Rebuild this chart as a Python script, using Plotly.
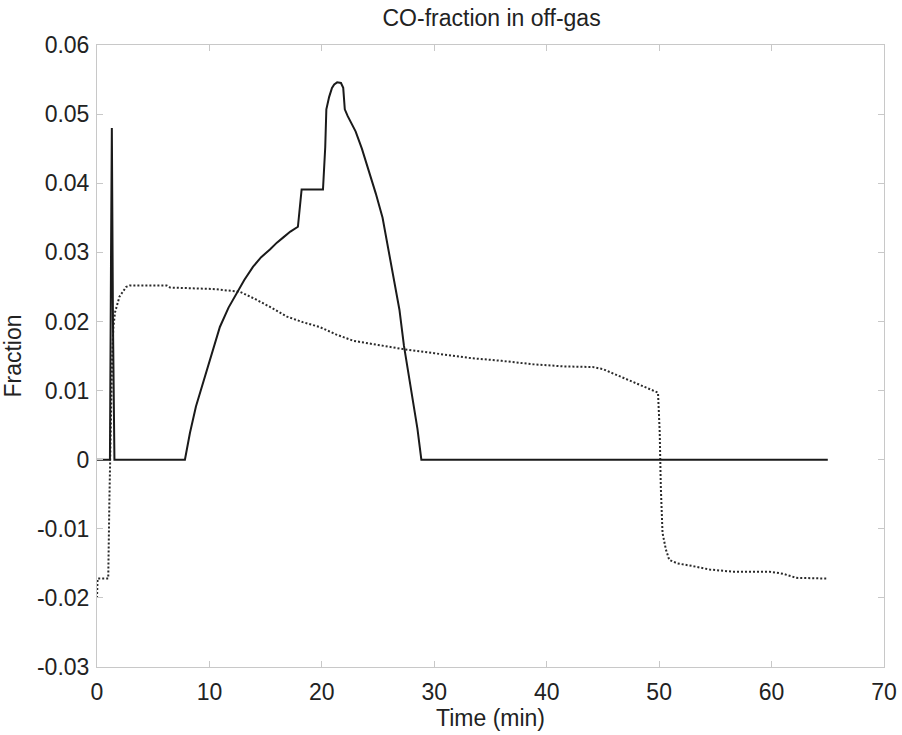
import plotly.graph_objects as go

# ---- data ----
co_time = [0, 1.15, 1.25, 1.32, 1.42, 1.55, 7.82, 8.27, 8.8, 9.42, 10.2, 10.93, 11.7,
           12.44, 13.1, 13.87, 14.6, 15.38, 16.0, 16.6, 17.2, 17.87, 17.96, 18.2, 20.1,
           20.3, 20.4, 20.65, 20.9, 21.1, 21.36, 21.7, 21.9, 22.04, 22.3, 22.6, 23.0,
           23.56, 24.2, 24.8, 25.4, 25.9, 26.4, 26.9, 27.3, 27.7, 28.1, 28.5, 28.85, 65.0]
co_frac = [0, 0, 0.03, 0.048, 0.02, 0, 0, 0.0039, 0.0077, 0.0111, 0.0155, 0.0192, 0.0220,
           0.0242, 0.0260, 0.0279, 0.0293, 0.0304, 0.0314, 0.0322, 0.0330, 0.0337, 0.0350,
           0.0391, 0.0391, 0.0452, 0.0507, 0.0525, 0.0538, 0.0543, 0.0546, 0.0545, 0.0538,
           0.0507, 0.0497, 0.0488, 0.0475, 0.0450, 0.0418, 0.0385, 0.0350, 0.0305, 0.0258,
           0.0217, 0.0165, 0.0125, 0.0087, 0.0045, 0, 0]

ref_time = [0, 0.05, 0.9, 1.0, 1.1, 1.2, 1.35, 1.45, 1.6, 2.0, 2.6, 2.9, 6.2, 6.5, 10.3,
            12.7, 14.0, 15.5, 16.9, 18.3, 19.8, 21.3, 22.8, 25.0, 27.6, 30.0, 33.2, 36.0,
            38.8, 41.5, 44.1, 45.0, 46.0, 47.6, 48.8, 49.9, 50.05, 50.15, 50.3, 50.6,
            50.9, 51.6, 53.0, 54.5, 56.5, 59.8, 61.0, 62.2, 64.9]
ref_frac = [-0.0200, -0.0172, -0.0172, -0.0172, -0.006, 0.005, 0.0150, 0.0190, 0.0213,
            0.0236, 0.0250, 0.0252, 0.0252, 0.0249, 0.0247, 0.0243, 0.0233, 0.0220, 0.0207,
            0.0199, 0.0192, 0.0181, 0.0172, 0.0166, 0.0159, 0.0154, 0.0147, 0.0143,
            0.0138, 0.0135, 0.0134, 0.0131, 0.0124, 0.0112, 0.0104, 0.0097, 0.004, -0.004,
            -0.0106, -0.0130, -0.0145, -0.0150, -0.0154, -0.0159, -0.0162, -0.0162,
            -0.0165, -0.0171, -0.0172]

x_ticks = [0, 10, 20, 30, 40, 50, 60, 70]
y_ticks = [-0.03, -0.02, -0.01, 0, 0.01, 0.02, 0.03, 0.04, 0.05, 0.06]
y_labels = ["-0.03", "-0.02", "-0.01", "0", "0.01", "0.02", "0.03", "0.04", "0.05", "0.06"]

FONT = "Liberation Sans, Arial, sans-serif"
FS = 23

fig = go.Figure()
fig.add_trace(go.Scatter(x=ref_time, y=ref_frac, mode="lines",
                         line=dict(color="#2a2a2a", width=2, dash="2px,2px"),
                         showlegend=False))
fig.add_trace(go.Scatter(x=co_time, y=co_frac, mode="lines",
                         line=dict(color="#1a1a1a", width=2),
                         showlegend=False))

axis_common = dict(
    showgrid=False, zeroline=False, showline=True, linecolor="#c8c8c8", linewidth=1,
    mirror="ticks", ticks="inside", ticklen=6, tickcolor="#c8c8c8", tickwidth=1,
    tickfont=dict(family=FONT, size=FS, color="#222222"), automargin=False,
)

fig.update_layout(
    width=902, height=735,
    margin=dict(l=97, r=18, t=45, b=68),
    paper_bgcolor="white", plot_bgcolor="white",
    font=dict(family=FONT, size=FS, color="#222222"),
    title=dict(text="CO-fraction in off-gas", x=0.545, xanchor="center",
               y=0.975, yanchor="middle", yref="container",
               font=dict(family=FONT, size=FS, color="#222222")),
    xaxis=dict(range=[0, 70], tickvals=x_ticks, ticklabelstandoff=4,
               title=dict(text="Time (min)", standoff=6,
                          font=dict(family=FONT, size=FS, color="#222222")),
               **axis_common),
    yaxis=dict(range=[-0.03, 0.06], tickvals=y_ticks, ticktext=y_labels,
               ticklabelstandoff=2,
               title=dict(text="Fraction", standoff=8,
                          font=dict(family=FONT, size=FS, color="#222222")),
               **axis_common),
)

fig.write_html("out.html")
